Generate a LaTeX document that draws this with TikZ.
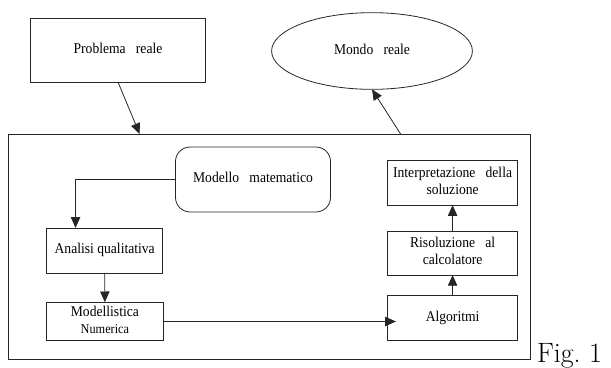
\documentclass[tikz,border=0pt]{standalone}
\usepackage{fontspec}
\setmainfont{Liberation Serif}
\newfontfamily\cmfont{Latin Modern Roman}
\usepackage{graphicx}
\usetikzlibrary{arrows.meta,shapes.geometric}
\newcommand{\lbl}[1]{\scalebox{1}[1.1]{\begin{tabular}{@{}c@{}}#1\end{tabular}}}
\newcommand{\wg}{\hspace{0.75em}}
\begin{document}
\begin{tikzpicture}[x=0.75pt,y=-0.75pt,
  line width=0.6pt,
  every node/.style={inner sep=0pt,outer sep=0pt},
  box/.style={draw=black!85,rectangle,font=\fontsize{10.2}{11.6}\selectfont},
  arr/.style={draw=black!85,-{Triangle[length=8pt,width=7pt]}}]
\useasboundingbox (0,0) rectangle (611,368);
\node[box,minimum width=131.3pt,minimum height=48pt] (pr) at (118,50) {\lbl{Problema\wg reale}};
\node[box,ellipse,minimum width=150.6pt,minimum height=57.5pt] (mondo) at (372,51) {\lbl{Mondo\wg reale}};
\node[box,minimum width=391.2pt,minimum height=168.75pt] (big) at (269.4,246.5) {};
\node[box,rounded corners=11pt,minimum width=116.3pt,minimum height=48.75pt] (mm) at (253,179.5) {\lbl{Modello\wg matematico}};
\node[box,minimum width=86.9pt,minimum height=33.75pt] (an) at (104.7,250.4) {\lbl{Analisi qualitativa}};
\node[box,minimum width=87.2pt,minimum height=29pt] (mn) at (104.9,321.5) {\lbl{Modellistica\\{\fontsize{9.2}{11.6}\selectfont Numerica}}};
\node[box,minimum width=97.1pt,minimum height=33.2pt] (ip) at (452.6,183) {\lbl{Interpretazione\wg della\\soluzione}};
\node[box,minimum width=97.1pt,minimum height=33pt] (rs) at (452.6,253) {\lbl{Risoluzione\wg al\\calcolatore}};
\node[box,minimum width=97.1pt,minimum height=33.2pt] (al) at (452.6,318) {\lbl{Algoritmi}};
\node[anchor=base west,font=\cmfont\fontsize{21}{21}\selectfont] (fig) at (537,362) {Fig.~1};
\draw[arr] (pr.south) -- ([xshift=98.25pt]big.north west);
\draw[arr] ([xshift=294pt]big.north west) -- (mondo.south);
\draw[arr] (mm.west) -| ([xshift=21.6pt]an.north west);
\draw[arr] (an.south) -- (mn.north);
\draw[arr,shorten >=-6pt] (mn.east) -- (mn.east -| al.west);
\draw[arr] (al.north) -- (rs.south);
\draw[arr] (rs.north) -- (ip.south);
\end{tikzpicture}
\end{document}
